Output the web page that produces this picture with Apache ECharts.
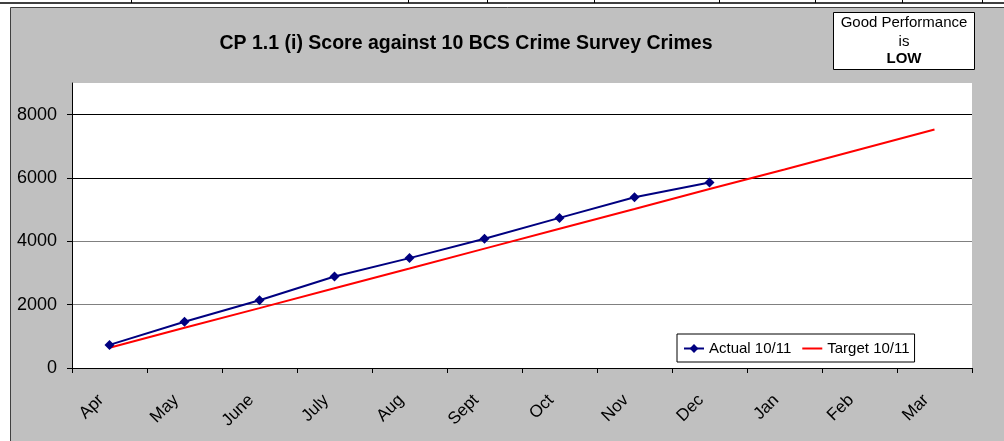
<!DOCTYPE html>
<html>
<head>
<meta charset="utf-8">
<script src="https://cdn.jsdelivr.net/npm/echarts@6/dist/echarts.min.js"></script>
<style>
  html, body { margin: 0; padding: 0; background: #ffffff; }
  #chart { width: 1004px; height: 441px; }
</style>
</head>
<body>
<div id="chart"></div>
<script>
// Months of the 2010/11 reporting year
const months = ['Apr', 'May', 'June', 'July', 'Aug', 'Sept', 'Oct', 'Nov', 'Dec', 'Jan', 'Feb', 'Mar'];
// Cumulative crime counts recorded so far
const actual = [730, 1460, 2140, 2890, 3470, 4080, 4740, 5390, 5860];
// Cumulative target profile for the year
const target = [640, 1270, 1890, 2520, 3140, 3770, 4400, 5020, 5650, 6270, 6900, 7530];
// Value-axis tick labels
const yTicks = [0, 2000, 4000, 6000, 8000];

const FONT = 'Liberation Sans, Arial, sans-serif';

const chart = echarts.init(document.getElementById('chart'), null, { renderer: 'canvas' });

// Column rules of the table sitting above the chart
const tableCols = [131, 408, 487, 594, 719, 815, 902, 982];
const tableLines = tableCols.map(x => ({
  type: 'line', z: 5,
  shape: { x1: x + 0.5, y1: 0, x2: x + 0.5, y2: 3 },
  style: { stroke: '#000', lineWidth: 1 }
}));

chart.setOption({
  animation: false,
  backgroundColor: '#ffffff',
  textStyle: { fontFamily: FONT },
  title: {
    text: 'CP 1.1 (i) Score against 10 BCS Crime Survey Crimes',
    left: 461, top: 29, textAlign: 'center',
    textStyle: { fontSize: 19.5, fontWeight: 'bold', color: '#000', fontFamily: FONT }
  },
  grid: {
    left: 72, right: 32, top: 83, bottom: 73,
    show: true, backgroundColor: '#ffffff', borderWidth: 0
  },
  legend: {
    left: 677, top: 334,
    backgroundColor: '#ffffff', borderColor: '#000', borderWidth: 1,
    padding: [7, 5, 6, 6],
    itemWidth: 20, itemHeight: 11, itemGap: 10,
    textStyle: { fontSize: 15, color: '#000', fontFamily: FONT },
    data: [
      { name: 'Actual 10/11' },
      { name: 'Target 10/11', itemStyle: { opacity: 0 } }
    ]
  },
  xAxis: {
    type: 'category',
    data: months,
    boundaryGap: true,
    axisLine: { lineStyle: { color: '#000', width: 1 } },
    axisTick: { show: true, length: 5, lineStyle: { color: '#000' } },
    axisLabel: {
      rotate: 45, margin: 21, padding: [0, 12, 0, 0],
      fontSize: 17, color: '#000', fontFamily: FONT, interval: 0
    },
    splitLine: { show: false }
  },
  yAxis: {
    type: 'value',
    min: 0, max: 9000, interval: 2000,
    axisLine: { show: true, lineStyle: { color: '#000', width: 1 } },
    axisTick: { show: true, length: 5, lineStyle: { color: '#000' }, customValues: yTicks },
    axisLabel: {
      fontSize: 18, color: '#000', margin: 15, fontFamily: FONT, customValues: yTicks,
      formatter: v => String(v)
    },
    splitLine: {
      show: true,
      lineStyle: { color: ['#000', '#808080', '#808080', '#000', '#000'], width: 1 }
    }
  },
  series: [
    {
      name: 'Actual 10/11',
      type: 'line',
      data: actual,
      color: '#000080',
      lineStyle: { width: 2, color: '#000080' },
      symbol: 'diamond', symbolSize: 10,
      itemStyle: { color: '#000080' },
      z: 3
    },
    {
      name: 'Target 10/11',
      type: 'line',
      data: target,
      color: '#ff0000',
      lineStyle: { width: 2, color: '#ff0000' },
      symbol: 'none',
      z: 2
    }
  ],
  graphic: [
    // grey chart panel
    {
      type: 'rect', z: -10, silent: true,
      shape: { x: 10.5, y: 7.5, width: 1000, height: 440 },
      style: { fill: '#c0c0c0', stroke: '#404040', lineWidth: 1 }
    },
    // rule under the table
    {
      type: 'line', z: 5,
      shape: { x1: 0, y1: 3, x2: 1004, y2: 3 },
      style: { stroke: '#000', lineWidth: 1.5 }
    },
    ...tableLines,
    // performance note box
    {
      type: 'group', z: 10,
      children: [
        {
          type: 'rect',
          shape: { x: 833.5, y: 12.5, width: 141, height: 57 },
          style: { fill: '#ffffff', stroke: '#000', lineWidth: 1 }
        },
        {
          type: 'text', x: 904, y: 23,
          style: { text: 'Good Performance', font: '15px ' + FONT, fill: '#000', align: 'center', verticalAlign: 'middle' }
        },
        {
          type: 'text', x: 904, y: 42,
          style: { text: 'is', font: '15px ' + FONT, fill: '#000', align: 'center', verticalAlign: 'middle' }
        },
        {
          type: 'text', x: 904, y: 59,
          style: { text: 'LOW', font: 'bold 15px ' + FONT, fill: '#000', align: 'center', verticalAlign: 'middle' }
        }
      ]
    }
  ]
});
</script>
</body>
</html>
